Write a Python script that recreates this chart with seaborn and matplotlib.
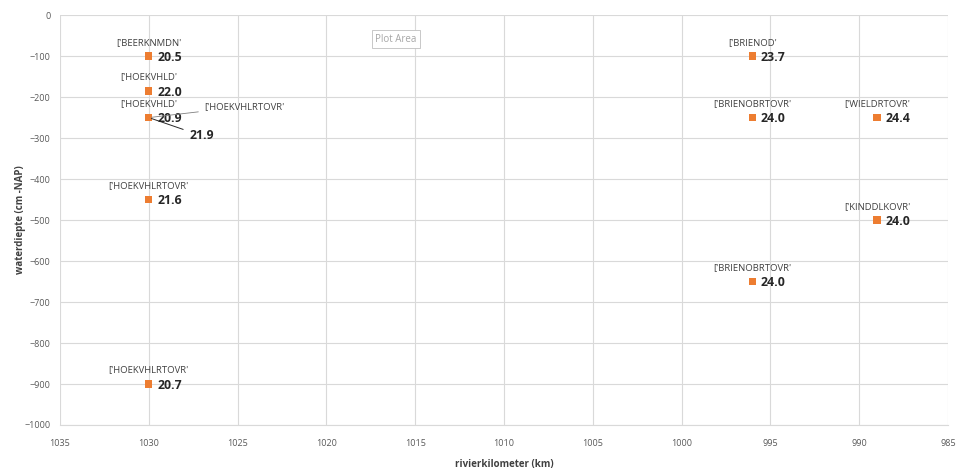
import pandas as pd
import numpy as np
import matplotlib.pyplot as plt
import seaborn as sns

# stations (rivierkilometer, waterdiepte, waarde)
stations = ["BEERKNMDN", "HOEKVHLD", "HOEKVHLD", "HOEKVHLRTOVR", "HOEKVHLRTOVR", "HOEKVHLRTOVR",
            "BRIENOD", "BRIENOBRTOVR", "WIELDRTOVR", "KINDDLKOVR", "BRIENOBRTOVR"]
km = [1030, 1030, 1030, 1030, 1030, 1030, 996, 996, 989, 989, 996]
depth = [-100, -185, -250, -250, -450, -900, -100, -250, -250, -500, -650]
value = [20.5, 22.0, 20.9, 21.9, 21.6, 20.7, 23.7, 24.0, 24.4, 24.0, 24.0]

df = pd.DataFrame({"station": stations, "km": km, "depth": depth, "value": value})

sns.set_style("white")
plt.rcParams['font.family'] = ['Open Sans', 'DejaVu Sans']

fig = plt.figure(figsize=(9.6, 4.73), dpi=100)
ax = fig.add_axes([0.0625, 0.1015, 0.925, 0.8665])

sns.scatterplot(data=df, x="km", y="depth", marker="s", s=28, color="#ED7D31",
                edgecolor="none", ax=ax, zorder=3)

ax.set_xlim(1035, 985)
ax.set_ylim(-1000, 0)
ax.set_xticks(np.arange(1035, 984, -5))
ax.set_yticks(np.arange(-1000, 1, 100))
ax.grid(True, color="#d9d9d9", linewidth=0.8)
for s in ["top", "right", "left"]:
    ax.spines[s].set_visible(False)
ax.spines["bottom"].set_color("#d9d9d9")
ax.tick_params(axis="x", labelsize=6.5, labelcolor="#595959", length=0, pad=10)
ax.tick_params(axis="y", labelsize=6.5, labelcolor="#595959", length=0, pad=7)

ax.set_xlabel("rivierkilometer (km)", fontsize=7, fontweight="bold", color="#404040", labelpad=8)
ax.set_ylabel("waterdiepte (cm -NAP)", fontsize=7, fontweight="bold", color="#404040", labelpad=-1)

# labels: name above, value right of marker
for i, r in df.iterrows():
    if i == 3:
        # overlapping point, labels pulled out with leader lines
        ax.annotate("['" + r.station + "'", (r.km, r.depth), xytext=(40, 8), textcoords="offset points",
                    fontsize=6.8, color="#404040", va="center", ha="left",
                    arrowprops=dict(arrowstyle="-", color="#7f7f7f", lw=0.6))
        ax.annotate(f"{r.value:.1f}", (r.km, r.depth), xytext=(29, -13), textcoords="offset points",
                    fontsize=8.8, fontweight="bold", color="#262626", va="center", ha="left",
                    arrowprops=dict(arrowstyle="-", color="#262626", lw=0.7))
        continue
    ax.annotate("['" + r.station + "'", (r.km, r.depth), xytext=(0, 10), textcoords="offset points",
                fontsize=6.8, color="#404040", ha="center", va="center")
    ax.annotate(f"{r.value:.1f}", (r.km, r.depth), xytext=(6, -1), textcoords="offset points",
                fontsize=8.8, fontweight="bold", color="#262626", ha="left", va="center")

ax.text(0.355, 0.935, "Plot Area", transform=ax.transAxes, fontsize=7, color="#a6a6a6",
        bbox=dict(boxstyle="square,pad=0.35", fc="white", ec="#bfbfbf", lw=0.6))

plt.savefig("out.png", dpi=100)
